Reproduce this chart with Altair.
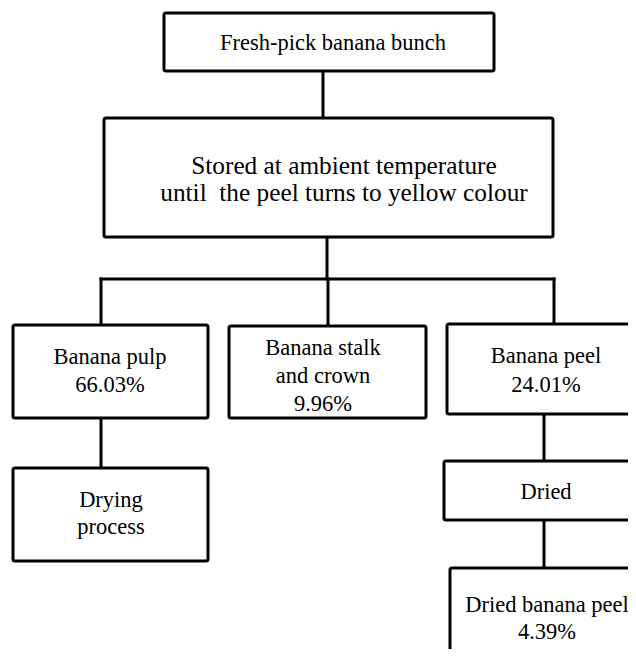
import altair as alt
import pandas as pd

# ---- content ----
box_names = ["bunch", "stored", "pulp", "stalk", "peel", "drying", "dried", "driedpeel"]
box_lines = [
    ["Fresh-pick banana bunch"],
    ["Stored at ambient temperature", "until\u00a0 the peel turns to yellow colour"],
    ["Banana pulp", "66.03%"],
    ["Banana stalk", "and crown", "9.96%"],
    ["Banana peel", "24.01%"],
    ["Drying", "process"],
    ["Dried"],
    ["Dried banana peel", "4.39%"],
]

# ---- layout (pixel grid of the 636x657 page) ----
box_x0 = [164, 104, 13, 229, 447, 13, 444, 450]
box_x1 = [494, 553, 208, 426, 645, 208, 645, 645]
box_y0 = [13, 118, 325, 326, 324, 468, 461, 568]
box_y1 = [71, 237, 418, 418, 414, 561, 520, 670]
text_cx = [333, 344, 110, 323, 546, 111, 546, 547]
text_y = [[43], [166, 193], [357, 385], [348, 376, 404], [356, 385], [500, 527], [492], [605, 632]]
text_size = [22.5, 25.3, 22.5, 22.5, 22.5, 22.5, 22.5, 22.5]

seg_x0 = [323, 327, 101, 101, 328, 554, 101, 544, 544]
seg_x1 = [323, 327, 554, 101, 328, 554, 101, 544, 544]
seg_y0 = [71, 237, 279, 279, 279, 279, 418, 414, 520]
seg_y1 = [118, 279, 279, 325, 325, 324, 468, 461, 568]

boxes = pd.DataFrame({"name": box_names, "x0": box_x0, "x1": box_x1, "y0": box_y0, "y1": box_y1})
segs = pd.DataFrame({"x0": seg_x0, "x1": seg_x1, "y0": seg_y0, "y1": seg_y1})
rows = []
for i, lines in enumerate(box_lines):
    for line, yy in zip(lines, text_y[i]):
        rows.append({"label": line, "x": text_cx[i], "y": yy, "size": text_size[i]})
texts = pd.DataFrame(rows)

W, H = 620, 641
xs = alt.Scale(domain=[8, 8 + W], nice=False, zero=False)
ys = alt.Scale(domain=[8, 8 + H], nice=False, zero=False, reverse=True)

rects = alt.Chart(boxes).mark_rect(
    fill="white", stroke="black", strokeWidth=3, cornerRadius=2, clip=True
).encode(
    x=alt.X("x0:Q", scale=xs, axis=None),
    x2="x1:Q",
    y=alt.Y("y0:Q", scale=ys, axis=None),
    y2="y1:Q",
)

rules = alt.Chart(segs).mark_rule(color="black", strokeWidth=3, strokeCap="square", clip=True).encode(
    x=alt.X("x0:Q", scale=xs, axis=None),
    x2="x1:Q",
    y=alt.Y("y0:Q", scale=ys, axis=None),
    y2="y1:Q",
)

labels = alt.Chart(texts).mark_text(
    font="'Times New Roman', 'Liberation Serif', 'DejaVu Serif', serif",
    color="black", align="center", baseline="middle"
).encode(
    x=alt.X("x:Q", scale=xs, axis=None),
    y=alt.Y("y:Q", scale=ys, axis=None),
    text="label:N",
    size=alt.Size("size:Q", scale=None, legend=None),
)

chart = (
    alt.layer(rules, rects, labels)
    .properties(width=W, height=H, padding=0, autosize=alt.AutoSizeParams(type="none"))
    .configure_view(strokeWidth=0)
)

chart.save("out.html", embed_options={"renderer": "svg", "actions": False})
